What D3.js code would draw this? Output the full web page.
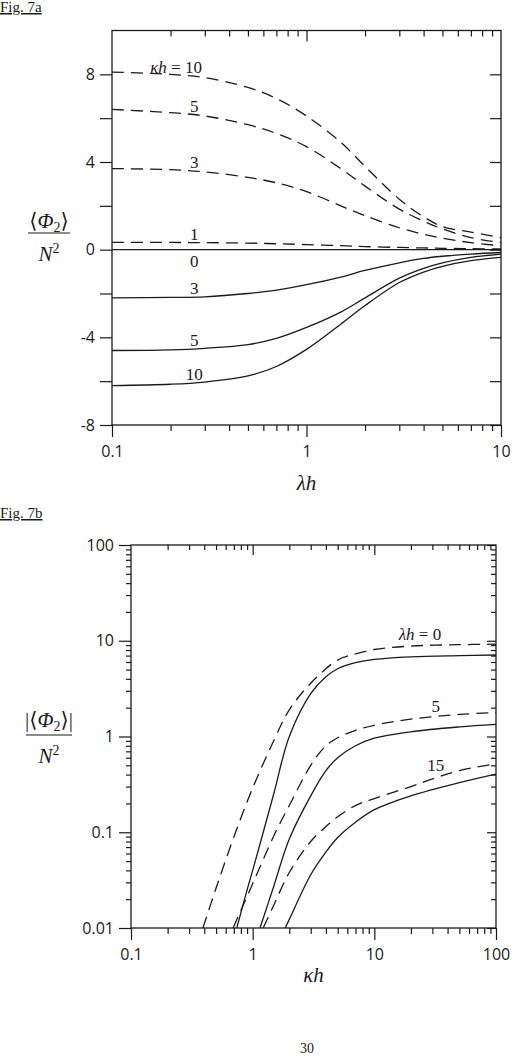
<!DOCTYPE html>
<html>
<head>
<meta charset="utf-8">
<title>Fig. 7</title>
<script src="https://cdn.jsdelivr.net/npm/d3@7"></script>
<style>
  body { margin: 0; background: #fff; }
  svg { display: block; }
</style>
</head>
<body>
<div id="chart"></div>
<script>
// ---- Fig. 7a : <Phi2>/N^2 against lambda*h, one curve per kappa*h ----
const lamH = [0.1, 0.2, 0.3, 0.5, 0.7, 1, 1.5, 2, 3, 4, 5, 7, 10];
const dashK10 = [8.1, 8.0, 7.85, 7.4, 6.9, 6.1, 4.9, 3.8, 2.3, 1.5, 1.05, 0.8, 0.55];
const dashK5 = [6.4, 6.25, 6.1, 5.7, 5.3, 4.7, 3.7, 2.9, 1.85, 1.3, 0.95, 0.55, 0.32];
const dashK3 = [3.7, 3.65, 3.55, 3.3, 3.05, 2.65, 2.0, 1.55, 1.0, 0.7, 0.52, 0.32, 0.18];
const dashK1 = [0.33, 0.33, 0.32, 0.3, 0.27, 0.23, 0.18, 0.14, 0.1, 0.08, 0.06, 0.045, 0.03];
const solidK0 = [0, 0, 0, 0, 0, 0, 0, 0, 0, 0, 0, 0, 0];
const solidK3 = [-2.2, -2.18, -2.15, -2.0, -1.85, -1.6, -1.25, -0.95, -0.6, -0.4, -0.3, -0.2, -0.13];
const solidK5 = [-4.6, -4.57, -4.5, -4.33, -4.05, -3.55, -2.85, -2.2, -1.3, -0.85, -0.6, -0.35, -0.2];
const solidK10 = [-6.2, -6.14, -6.04, -5.76, -5.33, -4.55, -3.4, -2.55, -1.5, -1.02, -0.76, -0.5, -0.35];
const xTicksA = [0.1, 1, 10];
const xTickLabelsA = ["0.1", "1", "10"];
const yTicksA = [-8, -6, -4, -2, 0, 2, 4, 6, 8];

// ---- Fig. 7b : |<Phi2>|/N^2 against kappa*h, dashed/solid pair per lambda*h ----
const kapL0Dash = [0.39, 0.5, 0.7, 1, 1.5, 2, 3, 5, 7, 10, 20, 50, 100];
const phiL0Dash = [0.01, 0.026, 0.089, 0.29, 0.92, 1.9, 3.6, 6.3, 7.3, 8.1, 8.8, 9.1, 9.2];
const kapL0Solid = [0.74, 0.9, 1, 1.2, 1.5, 2, 3, 4, 5, 7, 10, 20, 50, 100];
const phiL0Solid = [0.01, 0.025, 0.04, 0.092, 0.26, 1.0, 2.8, 4.2, 5.1, 5.9, 6.4, 6.8, 7.0, 7.1];
const kapL5Dash = [0.69, 1, 1.5, 2, 3, 4, 5, 7, 10, 20, 50, 100];
const phiL5Dash = [0.01, 0.029, 0.093, 0.19, 0.5, 0.8, 0.97, 1.16, 1.31, 1.52, 1.7, 1.78];
const kapL5Solid = [1.15, 1.5, 2, 3, 4, 5, 7, 10, 20, 50, 100];
const phiL5Solid = [0.01, 0.028, 0.085, 0.24, 0.44, 0.6, 0.8, 0.96, 1.12, 1.26, 1.34];
const kapL15Dash = [1.22, 1.5, 2, 3, 4, 5, 7, 10, 20, 30, 50, 100];
const phiL15Dash = [0.01, 0.0176, 0.038, 0.08, 0.115, 0.145, 0.19, 0.225, 0.3, 0.36, 0.44, 0.52];
const kapL15Solid = [1.85, 2, 3, 4, 5, 7, 10, 20, 50, 100];
const phiL15Solid = [0.01, 0.0123, 0.036, 0.062, 0.088, 0.127, 0.172, 0.24, 0.33, 0.405];
const xTicksB = [0.1, 1, 10, 100];
const xTickLabelsB = ["0.1", "1", "10", "100"];
const yTicksB = [0.01, 0.1, 1, 10, 100];
const yTickLabelsB = ["0.01", "0.1", "1", "10", "100"];

const serif = "'Liberation Serif', 'Times New Roman', 'DejaVu Serif', serif";
const sans = "'Open Sans', 'Noto Sans', sans-serif";
const ink = "#1a1a1a";
const dashPattern = "12,7";

const svg = d3.select("#chart").append("svg")
    .attr("width", 514)
    .attr("height", 1058);

// minor ticks of a log scale (everything that is not a power of ten)
function minorTicks(scale) {
    return scale.ticks().filter(t => Math.abs(Math.log10(t) - Math.round(Math.log10(t))) > 1e-6);
}

function drawAxis(axis, transform) {
    const g = svg.append("g")
        .attr("transform", transform)
        .call(axis);
    g.select(".domain").remove();
    g.selectAll("line").attr("stroke", ink).attr("stroke-width", 1.2);
    g.selectAll("text")
        .attr("font-family", sans)
        .attr("font-size", 16)
        .attr("fill", ink);
    return g;
}

// text made of roman / italic pieces
function mathText(x, y, parts, size, anchor) {
    const t = svg.append("text")
        .attr("x", x)
        .attr("y", y)
        .attr("font-family", serif)
        .attr("font-size", size)
        .attr("fill", ink)
        .attr("text-anchor", anchor || "middle");
    parts.forEach(p => {
        t.append("tspan")
            .attr("font-style", p[1] ? "italic" : null)
            .attr("font-size", p[2] || null)
            .attr("dy", p[3] || null)
            .text(p[0]);
    });
    return t;
}

function fraction(cx, yNum, yBar, yDen, numParts, barHalf) {
    mathText(cx, yNum, numParts, 21);
    svg.append("line")
        .attr("x1", cx - barHalf).attr("x2", cx + barHalf)
        .attr("y1", yBar).attr("y2", yBar)
        .attr("stroke", ink).attr("stroke-width", 1.1);
    mathText(cx, yDen, [["N", 1], ["2", 0, 14, -8]], 21);
}

function figTitle(x, y, txt) {
    svg.append("text")
        .attr("x", x).attr("y", y)
        .attr("font-family", serif)
        .attr("font-size", 15)
        .attr("fill", ink)
        .style("text-decoration", "underline")
        .text(txt);
}

// ================= Fig. 7a =================
const xA = d3.scaleLog().domain([0.1, 10]).range([112, 501]);
const yA = d3.scaleLinear().domain([-8, 10]).range([425, 30.5]);

figTitle(0, 12, "Fig. 7a");

drawAxis(d3.axisBottom(xA).tickValues(xTicksA).tickSize(12).tickPadding(9)
    .tickFormat((d, i) => xTickLabelsA[i]), `translate(0,${yA(-8)})`);
drawAxis(d3.axisBottom(xA).tickValues(minorTicks(xA)).tickSize(6).tickFormat(""), `translate(0,${yA(-8)})`);
drawAxis(d3.axisTop(xA).tickValues([1]).tickSize(-11).tickFormat(""), `translate(0,${yA(10)})`);
drawAxis(d3.axisTop(xA).tickValues(minorTicks(xA)).tickSize(-6).tickFormat(""), `translate(0,${yA(10)})`);
drawAxis(d3.axisLeft(yA).tickValues(yTicksA).tickSize(12).tickPadding(5)
    .tickFormat(d => d % 4 === 0 ? String(d) : ""), `translate(${xA(0.1)},0)`);
drawAxis(d3.axisRight(yA).tickValues(yTicksA).tickSize(-11).tickFormat(""), `translate(${xA(10)},0)`);

svg.append("rect")
    .attr("x", xA(0.1)).attr("y", yA(10))
    .attr("width", xA(10) - xA(0.1)).attr("height", yA(-8) - yA(10))
    .attr("fill", "none").attr("stroke", ink).attr("stroke-width", 1.3);

const seriesA = [
    { v: dashK10, dash: true, label: "10", off: -4 },
    { v: dashK5, dash: true, label: "5", off: -3 },
    { v: dashK3, dash: true, label: "3", off: -3 },
    { v: dashK1, dash: true, label: "1", off: -3 },
    { v: solidK0, dash: false, label: "0", off: 17 },
    { v: solidK3, dash: false, label: "3", off: -3 },
    { v: solidK5, dash: false, label: "5", off: -3 },
    { v: solidK10, dash: false, label: "10", off: -3 }
];

const lineA = d3.line()
    .x(d => xA(d[0]))
    .y(d => yA(d[1]))
    .curve(d3.curveCatmullRom.alpha(0.5));

seriesA.forEach((s, k) => {
    svg.append("path")
        .attr("d", lineA(lamH.map((x, i) => [x, s.v[i]])))
        .attr("fill", "none")
        .attr("stroke", ink)
        .attr("stroke-width", 1.3)
        .attr("stroke-dasharray", s.dash ? dashPattern : null);

    // label sits on the curve near lambda*h = 0.27
    const at = d3.scaleLog().domain(lamH).range(s.v);
    if (k === 0) {
        mathText(xA(0.29), yA(at(0.29)) + s.off, [["κ", 1], ["h", 1], [" = 10", 0]], 17, "end");
    } else {
        mathText(xA(0.265), yA(at(0.265)) + s.off, [[s.label, 0]], 17);
    }
});

mathText((xA(0.1) + xA(10)) / 2, 490, [["λ", 1], ["h", 1]], 21);
fraction(49, 228, 233, 261, [["⟨", 0], ["Φ", 1], ["2", 0, 14, 4], ["⟩", 0, null, -4]], 21);

// ================= Fig. 7b =================
const xB = d3.scaleLog().domain([0.1, 100]).range([131, 496]);
const yB = d3.scaleLog().domain([0.01, 100]).range([928, 545]);

figTitle(0, 518, "Fig. 7b");

drawAxis(d3.axisBottom(xB).tickValues(xTicksB).tickSize(12).tickPadding(9)
    .tickFormat((d, i) => xTickLabelsB[i]), `translate(0,${yB(0.01)})`);
drawAxis(d3.axisBottom(xB).tickValues(minorTicks(xB)).tickSize(6).tickFormat(""), `translate(0,${yB(0.01)})`);
drawAxis(d3.axisTop(xB).tickValues([1, 10]).tickSize(-10).tickFormat(""), `translate(0,${yB(100)})`);
drawAxis(d3.axisTop(xB).tickValues(minorTicks(xB)).tickSize(-5).tickFormat(""), `translate(0,${yB(100)})`);
drawAxis(d3.axisLeft(yB).tickValues(yTicksB).tickSize(12).tickPadding(5)
    .tickFormat((d, i) => yTickLabelsB[i]), `translate(${xB(0.1)},0)`);
drawAxis(d3.axisLeft(yB).tickValues(minorTicks(yB)).tickSize(5).tickFormat(""), `translate(${xB(0.1)},0)`);
drawAxis(d3.axisRight(yB).tickValues(yTicksB).tickSize(-9).tickFormat(""), `translate(${xB(100)},0)`);
drawAxis(d3.axisRight(yB).tickValues(minorTicks(yB)).tickSize(-5).tickFormat(""), `translate(${xB(100)},0)`);

svg.append("rect")
    .attr("x", xB(0.1)).attr("y", yB(100))
    .attr("width", xB(100) - xB(0.1)).attr("height", yB(0.01) - yB(100))
    .attr("fill", "none").attr("stroke", ink).attr("stroke-width", 1.3);

svg.append("clipPath").attr("id", "clipB")
    .append("rect")
    .attr("x", xB(0.1)).attr("y", yB(100))
    .attr("width", xB(100) - xB(0.1)).attr("height", yB(0.01) - yB(100));

const seriesB = [
    { k: kapL0Dash, v: phiL0Dash, dash: true },
    { k: kapL0Solid, v: phiL0Solid, dash: false },
    { k: kapL5Dash, v: phiL5Dash, dash: true },
    { k: kapL5Solid, v: phiL5Solid, dash: false },
    { k: kapL15Dash, v: phiL15Dash, dash: true },
    { k: kapL15Solid, v: phiL15Solid, dash: false }
];

const lineB = d3.line()
    .x(d => xB(d[0]))
    .y(d => yB(d[1]))
    .curve(d3.curveCatmullRom.alpha(0.5));

seriesB.forEach(s => {
    svg.append("path")
        .attr("clip-path", "url(#clipB)")
        .attr("d", lineB(s.k.map((x, i) => [x, s.v[i]])))
        .attr("fill", "none")
        .attr("stroke", ink)
        .attr("stroke-width", 1.3)
        .attr("stroke-dasharray", s.dash ? dashPattern : null);
});

// value on a dashed curve, interpolated in log-log
function onCurve(ks, vs, k) {
    const f = d3.scaleLog().domain(ks).range(vs.map(Math.log10));
    return Math.pow(10, f(k));
}

mathText(xB(23.7), yB(onCurve(kapL0Dash, phiL0Dash, 23.7)) - 6, [["λ", 1], ["h", 1], [" = 0", 0]], 17);
mathText(xB(32), yB(onCurve(kapL5Dash, phiL5Dash, 32)) - 5, [["5", 0]], 17);
mathText(xB(32), yB(onCurve(kapL15Dash, phiL15Dash, 32)) - 7, [["15", 0]], 17);

mathText((xB(0.1) + xB(100)) / 2, 982, [["κ", 1], ["h", 1]], 21);
fraction(49, 727, 735, 763, [["|⟨", 0], ["Φ", 1], ["2", 0, 14, 4], ["⟩|", 0, null, -4]], 23);

// page number
svg.append("text")
    .attr("x", 307).attr("y", 1053)
    .attr("font-family", serif)
    .attr("font-size", 14)
    .attr("fill", ink)
    .attr("text-anchor", "middle")
    .text("30");
</script>
</body>
</html>
